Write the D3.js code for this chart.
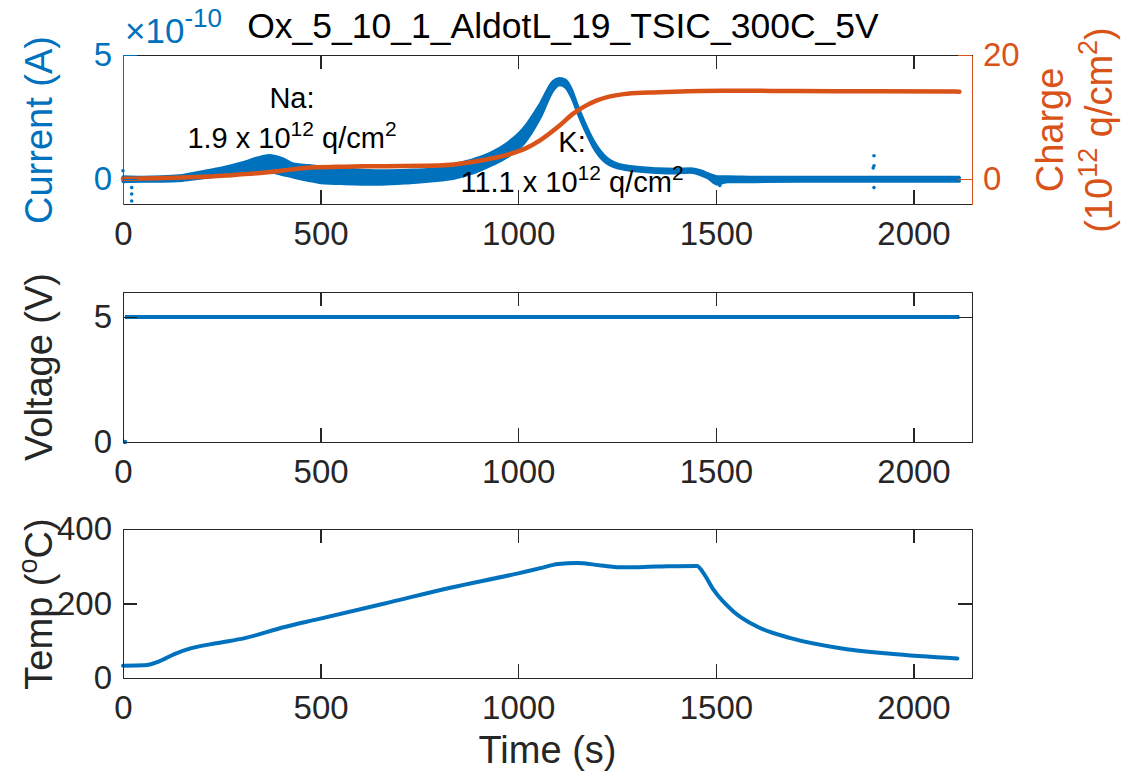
<!DOCTYPE html>
<html lang="en">
<head>
<meta charset="UTF-8">
<title>Ox_5_10_1_AldotL_19_TSIC_300C_5V</title>
<script src="https://d3js.org/d3.v7.min.js"></script>
<style>
    body { margin: 0; background: #fff; }
    svg text { font-family: "Liberation Sans", Arial, Helvetica, sans-serif; }
    .axis path, .axis line { shape-rendering: crispEdges; }
</style>
</head>
<body>
<div id="chart"></div>
<script>
    // ---- data ----
    const xTicks = [0, 500, 1000, 1500, 2000];

    // current (x1e-10 A): noisy band, lower / upper edge
    const curT  = [0, 50, 100, 150, 200, 250, 300, 340, 370, 400, 435, 470, 500, 560, 655, 720, 780, 840, 890, 930, 970, 1013, 1056, 1089, 1105, 1120, 1135, 1150, 1170, 1190, 1224, 1267, 1352, 1400, 1436, 1465, 1480, 1503, 1530, 1600, 1800, 2000, 2116];
    const curLo = [-0.1, -0.08, -0.08, -0.05, 0.05, 0.15, 0.25, 0.3, 0.3, 0.2, 0.07, -0.05, -0.14, -0.18, -0.2, -0.15, -0.07, 0.05, 0.27, 0.55, 0.88, 1.42, 2.5, 3.6, 3.8, 3.7, 3.3, 2.7, 1.95, 1.3, 0.65, 0.4, 0.27, 0.25, 0.28, 0.15, 0.05, -0.2, -0.1, -0.1, -0.08, -0.08, -0.08];
    const curHi = [0.1, 0.08, 0.1, 0.15, 0.3, 0.45, 0.65, 0.85, 0.95, 0.85, 0.6, 0.55, 0.5, 0.42, 0.34, 0.36, 0.4, 0.6, 0.81, 1.05, 1.42, 2.03, 3.04, 3.95, 4.05, 3.98, 3.6, 2.95, 2.2, 1.55, 0.85, 0.55, 0.42, 0.4, 0.42, 0.32, 0.22, 0.1, 0.1, 0.08, 0.08, 0.08, 0.08];
    // stray current points
    const strayT = [0, 22, 22, 22, 1510, 1898, 1900, 1900, 1900];
    const strayI = [0.34, -0.34, -0.6, -0.88, -0.25, 0.45, 0.54, 0.94, -0.34];

    // integrated charge (1e12 q/cm^2)
    const chgT = [0, 149, 275, 360, 410, 486, 560, 655, 800, 887, 971, 1020, 1056, 1100, 1140, 1170, 1199, 1230, 1267, 1330, 1393, 1520, 1700, 1900, 2116];
    const chgQ = [0.05, 0.27, 0.65, 1.08, 1.45, 1.9, 2.02, 2.1, 2.2, 2.8, 3.9, 5.0, 6.3, 8.4, 10.6, 11.8, 12.7, 13.3, 13.7, 13.95, 14.1, 14.25, 14.2, 14.15, 14.1];

    // voltage (V)
    const voltT = [0, 5, 2116];
    const voltV = [0, 5, 5];

    // temperature (oC)
    const tempT = [0, 55, 90, 130, 173, 240, 308, 409, 494, 662, 831, 1000, 1056, 1101, 1149, 1210, 1267, 1350, 1452, 1469, 1494, 1545, 1604, 1689, 1815, 1942, 2111];
    const tempC = [33, 34, 44, 64, 80, 94, 107, 137, 158, 200, 243, 281, 295, 306, 309, 302, 297, 299, 301, 281, 237, 178, 138, 107, 80, 65, 52.5];

    const blue = "#0072BD", orange = "#D95319", ink = "#262626";

    const W = 1132, H = 773;
    const left = 123, right = 972;

    const svg = d3.select("#chart").append("svg")
        .attr("width", W).attr("height", H);

    const x = d3.scaleLinear().domain([0, 2148]).range([left, right]);

    // panel boxes (top, bottom in px)
    const p1 = {top: 55, bottom: 204};
    const p2 = {top: 292, bottom: 442};
    const p3 = {top: 529, bottom: 678};

    const yCur = d3.scaleLinear().domain([-1, 5]).range([p1.bottom, p1.top]);
    const yChg = d3.scaleLinear().domain([-4, 20]).range([p1.bottom, p1.top]);
    const yVolt = d3.scaleLinear().domain([0, 6]).range([p2.bottom, p2.top]);
    const yTemp = d3.scaleLinear().domain([0, 400]).range([p3.bottom, p3.top]);

    const fmt = d3.format("d");
    const tickFont = 33, labelFont = 38;

    function styleAxis(g, color) {
        g.attr("class", "axis");
        g.select(".domain").attr("stroke", color).attr("stroke-width", 1.3);
        g.selectAll(".tick line").attr("stroke", color).attr("stroke-width", 1.3);
        g.selectAll(".tick text").attr("fill", color).style("font-size", tickFont + "px");
    }

    function xAxes(p) {
        const gb = svg.append("g").attr("transform", `translate(0,${p.bottom})`)
            .call(d3.axisBottom(x).tickValues(xTicks).tickFormat(fmt).tickSize(-14).tickSizeOuter(0).tickPadding(18));
        styleAxis(gb, ink);
        const gt = svg.append("g").attr("transform", `translate(0,${p.top})`)
            .call(d3.axisTop(x).tickValues(xTicks).tickSize(-14).tickSizeOuter(0).tickFormat(""));
        styleAxis(gt, ink);
    }

    function yLeft(scale, ticks, color) {
        const g = svg.append("g").attr("transform", `translate(${left},0)`)
            .call(d3.axisLeft(scale).tickValues(ticks).tickFormat(fmt).tickSize(-14).tickSizeOuter(0).tickPadding(11));
        styleAxis(g, color);
    }

    function yRight(scale, ticks, color, labels) {
        const ax = d3.axisRight(scale).tickValues(ticks).tickSize(-14).tickSizeOuter(0).tickPadding(11);
        ax.tickFormat(labels ? fmt : "");
        const g = svg.append("g").attr("transform", `translate(${right},0)`).call(ax);
        styleAxis(g, color);
    }

    // superscript-aware rotated label
    function vLabel(cx, cy, color, parts) {
        const t = svg.append("text")
            .attr("transform", `translate(${cx},${cy}) rotate(-90)`)
            .attr("text-anchor", "middle")
            .style("font-size", labelFont + "px")
            .attr("fill", color);
        parts.forEach(s => {
            const sp = t.append("tspan").text(s.text);
            if (s.sup) sp.attr("dy", -15).style("font-size", "27px");
            if (s.down) sp.attr("dy", 15);
        });
    }

    // ---------- panel 1: current + charge ----------
    const curData = curT.map((t, i) => ({t: t, lo: curLo[i], hi: curHi[i]}));
    const band = d3.area().x(d => x(d.t)).y0(d => yCur(d.lo)).y1(d => yCur(d.hi)).curve(d3.curveMonotoneX);

    svg.append("path").datum(curData)
        .attr("d", band)
        .attr("fill", blue)
        .attr("stroke", blue)
        .attr("stroke-width", 3)
        .attr("stroke-linejoin", "round");

    svg.append("g").selectAll("circle")
        .data(strayT.map((t, i) => ({t: t, v: strayI[i]})))
        .join("circle")
        .attr("cx", d => x(d.t)).attr("cy", d => yCur(d.v))
        .attr("r", 1.8).attr("fill", blue);

    const chgLine = d3.line().x((d, i) => x(chgT[i])).y(d => yChg(d)).curve(d3.curveMonotoneX);
    svg.append("path").datum(chgQ)
        .attr("d", chgLine)
        .attr("fill", "none")
        .attr("stroke", orange)
        .attr("stroke-width", 4.5)
        .attr("stroke-linecap", "round");

    xAxes(p1);
    yLeft(yCur, [0, 5], blue);
    yRight(yChg, [0, 20], orange, true);

    // exponent label
    const expo = svg.append("text").attr("x", 125).attr("y", 43)
        .attr("fill", blue).style("font-size", "35px");
    expo.append("tspan").text("\u00d710");
    expo.append("tspan").text("-10").attr("dy", -16).style("font-size", "26px");

    svg.append("text").attr("x", 563).attr("y", 38)
        .attr("text-anchor", "middle").attr("fill", "#000")
        .style("font-size", "35.5px")
        .text("Ox_5_10_1_AldotL_19_TSIC_300C_5V");

    vLabel(52, 130, blue, [{text: "Current (A)"}]);
    vLabel(1063, 130, orange, [{text: "Charge"}]);
    vLabel(1112, 130, orange, [
        {text: "(10"}, {text: "12", sup: true}, {text: " q/cm", down: true},
        {text: "2", sup: true}, {text: ")", down: true}
    ]);

    // annotations
    function note(cx, y, head, value) {
        svg.append("text").attr("x", cx).attr("y", y).attr("text-anchor", "middle")
            .attr("fill", "#000").style("font-size", "29px").text(head);
        const t = svg.append("text").attr("x", cx).attr("y", y + 40).attr("text-anchor", "middle")
            .attr("fill", "#000").style("font-size", "29px");
        t.append("tspan").text(value + " x 10");
        t.append("tspan").text("12").attr("dy", -12).style("font-size", "21px");
        t.append("tspan").text(" q/cm").attr("dy", 12);
        t.append("tspan").text("2").attr("dy", -12).style("font-size", "21px");
    }
    note(292, 108, "Na:", "1.9");
    note(572, 152, "K:", "11.1");

    // ---------- panel 2: voltage ----------
    const vData = voltT.map((t, i) => ({t: t, v: voltV[i]}));
    svg.append("path").datum(vData.filter(d => d.v > 0))
        .attr("d", d3.line().x(d => x(d.t)).y(d => yVolt(d.v)))
        .attr("fill", "none").attr("stroke", blue).attr("stroke-width", 4);
    svg.append("g").selectAll("circle")
        .data(vData.filter(d => d.v === 0))
        .join("circle")
        .attr("cx", d => x(d.t) + 2).attr("cy", d => yVolt(d.v))
        .attr("r", 2.2).attr("fill", blue);

    xAxes(p2);
    yLeft(yVolt, [0, 5], ink);
    yRight(yVolt, [0, 5], ink, false);
    vLabel(52, 367, ink, [{text: "Voltage (V)"}]);

    // ---------- panel 3: temperature ----------
    svg.append("path").datum(tempC)
        .attr("d", d3.line().x((d, i) => x(tempT[i])).y(d => yTemp(d)).curve(d3.curveMonotoneX))
        .attr("fill", "none").attr("stroke", blue).attr("stroke-width", 4)
        .attr("stroke-linecap", "round");

    xAxes(p3);
    yLeft(yTemp, [0, 200, 400], ink);
    yRight(yTemp, [0, 200, 400], ink, false);
    vLabel(52, 604, ink, [{text: "Temp ("}, {text: "o", sup: true}, {text: "C)", down: true}]);

    svg.append("text").attr("x", (left + right) / 2).attr("y", 763)
        .attr("text-anchor", "middle").attr("fill", ink).style("font-size", labelFont + "px")
        .text("Time (s)");
</script>
</body>
</html>
